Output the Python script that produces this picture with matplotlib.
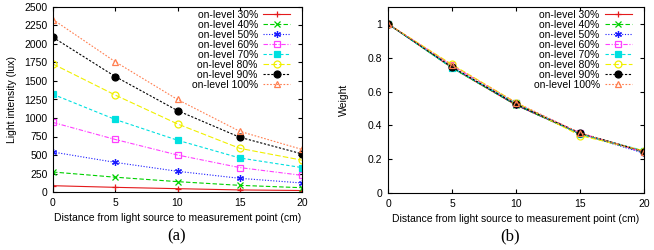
import matplotlib
matplotlib.use("Agg")
import matplotlib.pyplot as plt

plt.rcParams['font.family'] = ['Liberation Sans', 'DejaVu Sans']
plt.rcParams['font.size'] = 7.5

distance = [0, 5, 10, 15, 20]
labels = ['on-level 30%', 'on-level 40%', 'on-level 50%', 'on-level 60%',
          'on-level 70%', 'on-level 80%', 'on-level 90%', 'on-level 100%']

# light intensity (lux)
lux_30 = [85, 63, 45, 28, 20]
lux_40 = [270, 200, 140, 90, 58]
lux_50 = [540, 400, 280, 185, 122]
lux_60 = [940, 710, 500, 330, 225]
lux_70 = [1320, 980, 700, 460, 330]
lux_80 = [1730, 1310, 920, 590, 430]
lux_90 = [2090, 1560, 1100, 740, 515]
lux_100 = [2330, 1760, 1250, 820, 575]

# weights
w_30 = [1.0, 0.74, 0.52, 0.35, 0.245]
w_40 = [1.0, 0.74, 0.52, 0.35, 0.24]
w_50 = [1.0, 0.745, 0.52, 0.35, 0.235]
w_60 = [1.0, 0.755, 0.53, 0.355, 0.24]
w_70 = [1.0, 0.74, 0.53, 0.35, 0.25]
w_80 = [1.0, 0.76, 0.535, 0.34, 0.25]
w_90 = [1.0, 0.745, 0.525, 0.355, 0.245]
w_100 = [1.0, 0.755, 0.535, 0.355, 0.245]

lux = [lux_30, lux_40, lux_50, lux_60, lux_70, lux_80, lux_90, lux_100]
weights = [w_30, w_40, w_50, w_60, w_70, w_80, w_90, w_100]

colors = ['#e41a1c', '#00d000', '#1a1aff', '#ff40ff', '#00e0e0', '#f0f000', '#000000', '#ff7f50']
markers = ['+', 'x', (6, 2, 0), 's', 's', 'o', 'o', '^']
filled = [True, True, True, False, True, False, True, False]
styles = ['-', (0, (4, 2)), (0, (1, 1.5)), (0, (4, 1.5, 1, 1.5)), (0, (3, 2)),
          (0, (5, 2)), (0, (2, 1.5)), (0, (1.5, 1.5))]

W, H = 654, 250
fig = plt.figure(figsize=(W / 100, H / 100), dpi=100)
ax1 = fig.add_axes([53 / W, 1 - 192 / H, (302 - 53) / W, (192 - 7) / H])
ax2 = fig.add_axes([388 / W, 1 - 193 / H, (644 - 388) / W, (193 - 7) / H])


def draw(ax, data, anchor):
    for i, ys in enumerate(data):
        mfc = colors[i] if filled[i] else 'none'
        ax.plot(distance, ys, color=colors[i], linestyle=styles[i], linewidth=0.8,
                marker=markers[i], markersize=5, markerfacecolor=mfc,
                markeredgecolor=colors[i], markeredgewidth=0.9, label=labels[i])
    ax.set_xlim(0, 20)
    ax.set_xticks(distance)
    ax.tick_params(direction='in', top=True, right=True, length=3, pad=4)
    ax.set_xlabel('Distance from light source to measurement point (cm)', labelpad=4)
    ax.legend(loc='upper right', bbox_to_anchor=anchor, frameon=False,
              markerfirst=False, handlelength=2.6, labelspacing=0.0,
              borderaxespad=0, borderpad=0, handletextpad=0.5, fontsize=7.5)


draw(ax1, lux, (0.952, 0.985))
ax1.set_ylim(0, 2500)
ax1.set_yticks(range(0, 2501, 250))
ax1.set_ylabel('Light intensity (lux)', labelpad=5)

draw(ax2, weights, (0.953, 0.985))
ax2.set_ylim(0, 1.1)
ax2.set_yticks([0, 0.2, 0.4, 0.6, 0.8, 1.0])
ax2.set_yticklabels(['0', '0.2', '0.4', '0.6', '0.8', '1'])
ax2.set_ylabel('Weight', labelpad=14)

fig.text(177 / W, 1 - 236 / H, '(a)', ha='center', va='center',
         family='Liberation Serif', fontsize=12)
fig.text(510 / W, 1 - 236 / H, '(b)', ha='center', va='center',
         family='Liberation Serif', fontsize=12)

fig.savefig('out.png', dpi=100)
